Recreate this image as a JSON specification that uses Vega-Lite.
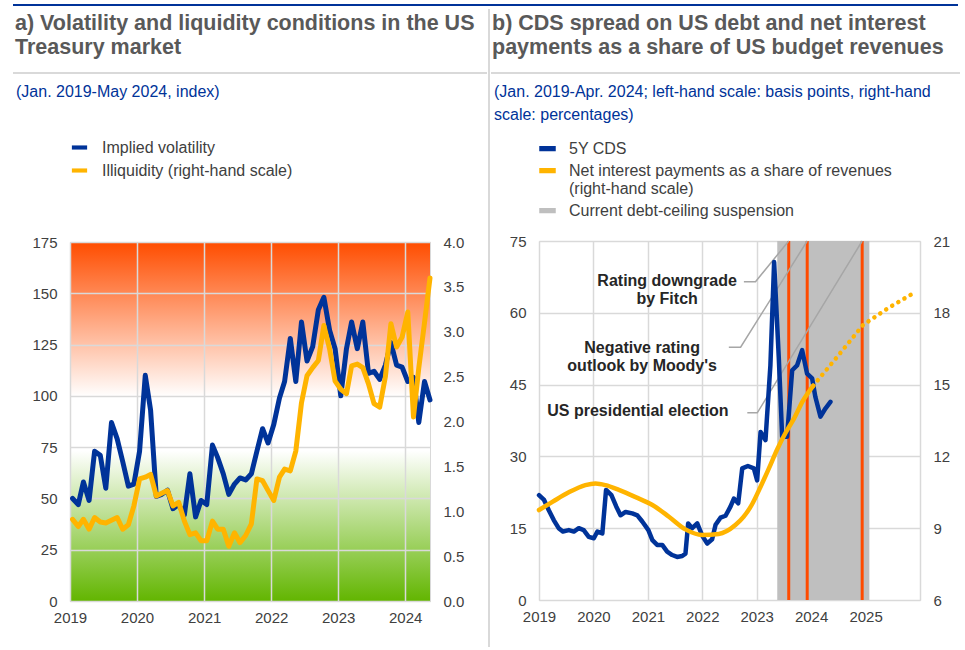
{
  "$schema": "https://vega.github.io/schema/vega-lite/v6.json",
  "background": "white",
  "padding": {"left": 12, "top": 4, "right": 0, "bottom": 0},
  "config": {
    "font": "Liberation Sans",
    "view": {"stroke": null},
    "axis": {"labelFont": "Liberation Sans", "labelFontSize": 15, "labelColor": "#404040", "domain": false, "ticks": false, "tickSize": 0, "gridColor": "#d9d9d9", "gridWidth": 1.5, "labelPadding": 13},
    "axisX": {"labelPadding": 9},
    "legend": {"labelFont": "Liberation Sans", "labelFontSize": 16, "labelColor": "#404040", "symbolSize": 225, "labelOffset": 13, "rowPadding": 5, "labelLimit": 600, "symbolType": "M-1,-0.25H1V0.25H-1Z"}
  },
  "spacing": 1,
  "resolve": {"scale": {"color": "independent"}, "legend": {"color": "independent"}},
  "vconcat": [
    {"width": 945, "height": 2, "data": {"values": [{}]}, "mark": {"type": "text", "fontSize": 2, "baseline": "top"}, "encoding": {"text": {"value": ""}}, "view": {"fill": "#003399", "stroke": null}},
    {
      "spacing": 0,
      "resolve": {"scale": {"x": "independent", "y": "independent", "color": "independent"}, "legend": {"color": "independent"}},
      "hconcat": [
        {
          "spacing": 9,
          "resolve": {"scale": {"x": "independent", "y": "independent", "color": "independent"}, "legend": {"color": "independent"}},
          "vconcat": [
            {"width": 474, "height": 64, "data": {"values": [{}]}, "mark": {"type": "point", "size": 0, "opacity": 0, "strokeWidth": 0}, "encoding": {}, "view": {"stroke": "#d9d9d9", "strokeWidth": 2, "strokeDash": [0, 538, 474, 64]},
             "title": {"text": ["a) Volatility and liquidity conditions in the US", "Treasury market"], "anchor": "start", "frame": "group", "dx": 2, "offset": -49, "fontSize": 21.5, "lineHeight": 24, "fontWeight": "bold", "color": "#595959", "font": "Liberation Sans"}},
            {"spacing": 0,
             "resolve": {"scale": {"x": "independent", "y": "independent", "color": "independent"}, "legend": {"color": "independent"}},
             "hconcat": [
            {"width": 2, "height": 0, "data": {"values": [{}]}, "mark": {"type": "point", "size": 0, "opacity": 0, "strokeWidth": 0}, "encoding": {}, "view": {"stroke": null}},
            {
              "width": 360,
              "height": 359,
              "view": {"stroke": "#d9d9d9", "fill": {"gradient": "linear", "x1": 0, "y1": 1, "x2": 0, "y2": 0, "stops": [{"offset": 0, "color": "#62b500"}, {"offset": 0.42, "color": "#ffffff"}, {"offset": 0.57, "color": "#ffffff"}, {"offset": 1, "color": "#ff4d00"}]}},
              "title": {"text": "(Jan. 2019-May 2024, index)", "anchor": "start", "frame": "group", "dx": -54, "offset": 38, "fontSize": 16, "fontWeight": "normal", "color": "#003399", "font": "Liberation Sans"},
              "data": {"values": [
                {"date": "2019-01-15", "vol": 50, "illiq": 0.91}, {"date": "2019-02-15", "vol": 47, "illiq": 0.83}, {"date": "2019-03-15", "vol": 58, "illiq": 0.91}, {"date": "2019-04-15", "vol": 49, "illiq": 0.80}, {"date": "2019-05-15", "vol": 73, "illiq": 0.93}, {"date": "2019-06-15", "vol": 71, "illiq": 0.88}, {"date": "2019-07-15", "vol": 55, "illiq": 0.87}, {"date": "2019-08-15", "vol": 87, "illiq": 0.90}, {"date": "2019-09-15", "vol": 79, "illiq": 0.93}, {"date": "2019-10-15", "vol": 68, "illiq": 0.80}, {"date": "2019-11-15", "vol": 56, "illiq": 0.85}, {"date": "2019-12-15", "vol": 57, "illiq": 1.06},
                {"date": "2020-01-15", "vol": 73, "illiq": 1.36}, {"date": "2020-02-15", "vol": 110, "illiq": 1.38}, {"date": "2020-03-15", "vol": 93, "illiq": 1.41}, {"date": "2020-04-15", "vol": 51, "illiq": 1.17}, {"date": "2020-05-15", "vol": 52, "illiq": 1.20}, {"date": "2020-06-15", "vol": 54, "illiq": 1.23}, {"date": "2020-07-15", "vol": 45, "illiq": 1.06}, {"date": "2020-08-15", "vol": 47, "illiq": 1.10}, {"date": "2020-09-15", "vol": 42, "illiq": 0.89}, {"date": "2020-10-15", "vol": 62, "illiq": 0.74}, {"date": "2020-11-15", "vol": 41, "illiq": 0.76}, {"date": "2020-12-15", "vol": 49, "illiq": 0.67},
                {"date": "2021-01-15", "vol": 47, "illiq": 0.67}, {"date": "2021-02-15", "vol": 76, "illiq": 0.89}, {"date": "2021-03-15", "vol": 70, "illiq": 0.80}, {"date": "2021-04-15", "vol": 62, "illiq": 0.80}, {"date": "2021-05-15", "vol": 52, "illiq": 0.61}, {"date": "2021-06-15", "vol": 57, "illiq": 0.76}, {"date": "2021-07-15", "vol": 60, "illiq": 0.65}, {"date": "2021-08-15", "vol": 59, "illiq": 0.73}, {"date": "2021-09-15", "vol": 62, "illiq": 0.86}, {"date": "2021-10-15", "vol": 73, "illiq": 1.36}, {"date": "2021-11-15", "vol": 84, "illiq": 1.34}, {"date": "2021-12-15", "vol": 77, "illiq": 1.23},
                {"date": "2022-01-15", "vol": 86, "illiq": 1.12}, {"date": "2022-02-15", "vol": 99, "illiq": 1.38}, {"date": "2022-03-15", "vol": 107, "illiq": 1.47}, {"date": "2022-04-15", "vol": 128, "illiq": 1.45}, {"date": "2022-05-15", "vol": 107, "illiq": 1.67}, {"date": "2022-06-15", "vol": 136, "illiq": 2.21}, {"date": "2022-07-15", "vol": 117, "illiq": 2.51}, {"date": "2022-08-15", "vol": 124, "illiq": 2.60}, {"date": "2022-09-15", "vol": 142, "illiq": 2.68}, {"date": "2022-10-15", "vol": 148, "illiq": 3.07}, {"date": "2022-11-15", "vol": 132, "illiq": 2.81}, {"date": "2022-12-15", "vol": 123, "illiq": 2.45},
                {"date": "2023-01-15", "vol": 100, "illiq": 2.36}, {"date": "2023-02-15", "vol": 123, "illiq": 2.31}, {"date": "2023-03-15", "vol": 136, "illiq": 2.62}, {"date": "2023-04-15", "vol": 123, "illiq": 2.64}, {"date": "2023-05-15", "vol": 136, "illiq": 2.60}, {"date": "2023-06-15", "vol": 111, "illiq": 2.42}, {"date": "2023-07-15", "vol": 112, "illiq": 2.20}, {"date": "2023-08-15", "vol": 108, "illiq": 2.16}, {"date": "2023-09-15", "vol": 115, "illiq": 2.50}, {"date": "2023-10-15", "vol": 126, "illiq": 3.09}, {"date": "2023-11-15", "vol": 115, "illiq": 2.83}, {"date": "2023-12-15", "vol": 114, "illiq": 2.94},
                {"date": "2024-01-15", "vol": 107, "illiq": 3.22}, {"date": "2024-02-15", "vol": 109, "illiq": 2.05}, {"date": "2024-03-15", "vol": 87, "illiq": 2.60}, {"date": "2024-04-15", "vol": 107, "illiq": 3.10}, {"date": "2024-05-15", "vol": 98, "illiq": 3.60}
              ]},
              "encoding": {
                "x": {"field": "date", "type": "temporal", "title": null,
                      "scale": {"type": "utc", "nice": false, "domain": [{"year": 2019, "month": 1, "date": 1, "utc": true}, {"year": 2024, "month": 5, "date": 15, "utc": true}]},
                      "axis": {"grid": true, "format": "%Y", "formatType": "utc", "tickCount": {"interval": "year", "step": 1}, "labelFlush": false, "labelOverlap": false}}
              },
              "layer": [
                {"mark": {"type": "line", "strokeWidth": 5, "strokeJoin": "round", "strokeCap": "round"},
                 "encoding": {
                   "y": {"field": "vol", "type": "quantitative", "title": null, "scale": {"domain": [0, 175], "nice": false}, "axis": {"orient": "left", "values": [0, 25, 50, 75, 100, 125, 150, 175], "grid": true}},
                   "color": {"datum": "Implied volatility", "scale": {"domain": ["Implied volatility", "Illiquidity (right-hand scale)"], "range": ["#003399", "#ffb400"]},
                             "legend": {"title": null, "orient": "top", "direction": "vertical", "offset": 63, "symbolType": "M-0.75,-0.01H0.75V0.01H-0.75Z", "symbolStrokeWidth": 4}}
                 }},
                {"mark": {"type": "line", "strokeWidth": 5, "strokeJoin": "round", "strokeCap": "round"},
                 "encoding": {
                   "y": {"field": "illiq", "type": "quantitative", "title": null, "scale": {"domain": [0, 4], "nice": false}, "axis": {"orient": "right", "values": [0, 0.5, 1, 1.5, 2, 2.5, 3, 3.5, 4], "format": ".1f", "grid": false}},
                   "color": {"datum": "Illiquidity (right-hand scale)"}
                 }}
              ],
              "resolve": {"scale": {"y": "independent"}}
            }
            ]}
          ]
        },
        {"width": 2, "height": 638, "data": {"values": [{}]}, "mark": {"type": "point", "size": 0, "opacity": 0, "strokeWidth": 0}, "encoding": {}, "view": {"fill": "#d9d9d9", "stroke": null}},
        {
          "spacing": 9,
          "resolve": {"scale": {"x": "independent", "y": "independent", "color": "independent"}, "legend": {"color": "independent"}},
          "vconcat": [
            {"width": 469, "height": 64, "data": {"values": [{}]}, "mark": {"type": "point", "size": 0, "opacity": 0, "strokeWidth": 0}, "encoding": {}, "view": {"stroke": "#d9d9d9", "strokeWidth": 2, "strokeDash": [0, 533, 469, 64]},
             "title": {"text": ["b) CDS spread on US debt and net interest", "payments as a share of US budget revenues"], "anchor": "start", "frame": "group", "dx": 1, "offset": -49, "fontSize": 21.5, "lineHeight": 24, "fontWeight": "bold", "color": "#595959", "font": "Liberation Sans"}},
            {"spacing": 0,
             "resolve": {"scale": {"x": "independent", "y": "independent", "color": "independent"}, "legend": {"color": "independent"}},
             "hconcat": [
            {"width": 2, "height": 0, "data": {"values": [{}]}, "mark": {"type": "point", "size": 0, "opacity": 0, "strokeWidth": 0}, "encoding": {}, "view": {"stroke": null}},
            {
              "width": 381,
              "height": 359,
              "view": {"stroke": "#d9d9d9"},
              "title": {"text": ["(Jan. 2019-Apr. 2024; left-hand scale: basis points, right-hand", "scale: percentages)"], "anchor": "start", "frame": "group", "dx": -45, "offset": 17, "lineHeight": 23, "fontSize": 16, "fontWeight": "normal", "color": "#003399", "font": "Liberation Sans"},
              "encoding": {
                "x": {"field": "date", "type": "temporal", "title": null,
                      "scale": {"type": "utc", "nice": false, "domain": [{"year": 2019, "month": 1, "date": 1, "utc": true}, {"year": 2026, "month": 1, "date": 1, "utc": true}]},
                      "axis": {"grid": true, "format": "%Y", "formatType": "utc", "tickCount": {"interval": "year", "step": 1}, "labelFlush": false, "labelOverlap": false, "labelExpr": "utcyear(datum.value) >= 2026 ? '' : datum.label"}}
              },
              "layer": [
                {
                  "layer": [
                    {"data": {"values": [{"start": "2023-05-19", "end": "2025-01-26"}]},
                     "mark": {"type": "rect", "opacity": 1},
                     "encoding": {"x": {"field": "start", "type": "temporal"}, "x2": {"field": "end"},
                                  "color": {"datum": "Current debt-ceiling suspension",
                                            "scale": {"domain": ["5Y CDS", "Net interest payments as a share of revenues (right-hand scale)", "Current debt-ceiling suspension"], "range": ["#003399", "#ffb400", "#bfbfbf"]},
                                            "legend": {"title": null, "orient": "top", "direction": "vertical", "offset": 19, "symbolType": "M-1,-0.25H1V0.25H-1Z",
                                                       "labelExpr": "datum.label === 'Net interest payments as a share of revenues (right-hand scale)' ? ['Net interest payments as a share of revenues', '(right-hand scale)'] : datum.label"}}}},
                    {"data": {"values": [{"date": "2023-08-04", "event": "Fitch downgrade"}, {"date": "2023-12-06", "event": "Moody's outlook"}, {"date": "2024-12-09", "event": "US presidential election"}]},
                     "mark": {"type": "rule", "color": "#ff4b00", "strokeWidth": 3},
                     "encoding": {"x": {"field": "date", "type": "temporal"}}},
                    {"data": {"values": [
                       {"date": "2022-10-07", "val": 66.5, "grp": "f"}, {"date": "2022-12-24", "val": 66.5, "grp": "f"}, {"date": "2023-08-04", "val": 75, "grp": "f"},
                       {"date": "2022-06-28", "val": 52.8, "grp": "m"}, {"date": "2022-09-15", "val": 52.8, "grp": "m"}, {"date": "2023-12-06", "val": 75, "grp": "m"},
                       {"date": "2022-10-30", "val": 39.1, "grp": "e"}, {"date": "2023-01-05", "val": 39.1, "grp": "e"}, {"date": "2024-12-09", "val": 75, "grp": "e"}]},
                     "mark": {"type": "line", "color": "#a6a6a6", "strokeWidth": 1.5},
                     "encoding": {"x": {"field": "date", "type": "temporal"}, "y": {"field": "val", "type": "quantitative"}, "detail": {"field": "grp"}}},
                    {"data": {"values": [
                       {"date": "2021-05-10", "val": 66.7, "label": "Rating downgrade\nby Fitch"},
                       {"date": "2020-11-23", "val": 52.6, "label": "Negative rating\noutlook by Moody's"},
                       {"date": "2020-10-26", "val": 39.5, "label": "US presidential election"}]},
                     "mark": {"type": "text", "lineBreak": "\n", "align": "center", "baseline": "middle", "fontSize": 16, "fontWeight": "bold", "color": "#262626", "lineHeight": 18},
                     "encoding": {"x": {"field": "date", "type": "temporal"}, "y": {"field": "val", "type": "quantitative"}, "text": {"field": "label"}}},
                    {"data": {"values": [
                       {"date": "2019-01-01", "cds": 21.9}, {"date": "2019-02-04", "cds": 20.9}, {"date": "2019-03-07", "cds": 18.8}, {"date": "2019-04-10", "cds": 16.7}, {"date": "2019-05-13", "cds": 15.0}, {"date": "2019-06-10", "cds": 14.3}, {"date": "2019-07-20", "cds": 14.6}, {"date": "2019-08-23", "cds": 14.3}, {"date": "2019-09-25", "cds": 15.0}, {"date": "2019-10-28", "cds": 14.6}, {"date": "2019-12-01", "cds": 13.2},
                       {"date": "2020-01-04", "cds": 12.9}, {"date": "2020-01-28", "cds": 14.3}, {"date": "2020-03-01", "cds": 13.9}, {"date": "2020-03-26", "cds": 23.0}, {"date": "2020-05-01", "cds": 21.9}, {"date": "2020-06-03", "cds": 19.5}, {"date": "2020-07-01", "cds": 17.7}, {"date": "2020-08-04", "cds": 18.4}, {"date": "2020-09-18", "cds": 18.1}, {"date": "2020-10-22", "cds": 17.7}, {"date": "2020-11-24", "cds": 16.4},
                       {"date": "2021-01-04", "cds": 14.6}, {"date": "2021-01-31", "cds": 12.5}, {"date": "2021-03-04", "cds": 11.5}, {"date": "2021-04-07", "cds": 11.5}, {"date": "2021-05-10", "cds": 10.1}, {"date": "2021-06-13", "cds": 9.4}, {"date": "2021-07-16", "cds": 9.0}, {"date": "2021-08-19", "cds": 9.2}, {"date": "2021-09-10", "cds": 9.7}, {"date": "2021-09-28", "cds": 16.0}, {"date": "2021-10-25", "cds": 15.0}, {"date": "2021-11-28", "cds": 16.0},
                       {"date": "2022-01-01", "cds": 13.4}, {"date": "2022-02-03", "cds": 11.8}, {"date": "2022-03-08", "cds": 12.7}, {"date": "2022-03-31", "cds": 15.7}, {"date": "2022-05-03", "cds": 17.2}, {"date": "2022-06-06", "cds": 17.6}, {"date": "2022-07-09", "cds": 19.5}, {"date": "2022-08-01", "cds": 21.2}, {"date": "2022-08-30", "cds": 20.2}, {"date": "2022-09-26", "cds": 27.5}, {"date": "2022-11-03", "cds": 28.0}, {"date": "2022-12-13", "cds": 27.5},
                       {"date": "2023-01-04", "cds": 25.0}, {"date": "2023-01-27", "cds": 35.1}, {"date": "2023-03-01", "cds": 33.4}, {"date": "2023-04-03", "cds": 49.0}, {"date": "2023-04-28", "cds": 70.6}, {"date": "2023-05-29", "cds": 50.8}, {"date": "2023-06-21", "cds": 34.1}, {"date": "2023-07-24", "cds": 34.1}, {"date": "2023-08-27", "cds": 48.0}, {"date": "2023-09-29", "cds": 49.0}, {"date": "2023-11-02", "cds": 52.2}, {"date": "2023-12-05", "cds": 47.3},
                       {"date": "2024-01-08", "cds": 46.3}, {"date": "2024-01-30", "cds": 42.4}, {"date": "2024-03-04", "cds": 38.3}, {"date": "2024-04-06", "cds": 40.0}, {"date": "2024-05-10", "cds": 41.4}]},
                     "mark": {"type": "line", "strokeWidth": 4.5, "strokeJoin": "round", "strokeCap": "round"},
                     "encoding": {"x": {"field": "date", "type": "temporal"},
                                  "y": {"field": "cds", "type": "quantitative", "title": null, "scale": {"domain": [0, 75], "nice": false}, "axis": {"orient": "left", "values": [0, 15, 30, 45, 60, 75], "grid": true}},
                                  "color": {"datum": "5Y CDS"}}}
                  ]
                },
                {
                  "layer": [
                    {"data": {"values": [
                       {"date": "2019-01-01", "nip": 9.76}, {"date": "2019-04-01", "nip": 10.1}, {"date": "2019-07-20", "nip": 10.5}, {"date": "2019-11-08", "nip": 10.8}, {"date": "2020-01-15", "nip": 10.87}, {"date": "2020-03-22", "nip": 10.8}, {"date": "2020-06-20", "nip": 10.6}, {"date": "2020-10-10", "nip": 10.3},
                       {"date": "2021-01-31", "nip": 9.97}, {"date": "2021-05-22", "nip": 9.48}, {"date": "2021-09-10", "nip": 8.95}, {"date": "2022-01-01", "nip": 8.72}, {"date": "2022-04-21", "nip": 8.76}, {"date": "2022-08-11", "nip": 9.13}, {"date": "2022-10-06", "nip": 9.48}, {"date": "2022-12-01", "nip": 10.0},
                       {"date": "2023-01-27", "nip": 10.73}, {"date": "2023-03-24", "nip": 11.5}, {"date": "2023-05-19", "nip": 12.3}, {"date": "2023-07-15", "nip": 13.0}, {"date": "2023-09-10", "nip": 13.6}, {"date": "2023-11-05", "nip": 14.3}, {"date": "2024-01-15", "nip": 14.95}]},
                     "mark": {"type": "line", "strokeWidth": 4.5, "interpolate": "monotone", "strokeCap": "round"},
                     "encoding": {"x": {"field": "date", "type": "temporal"},
                                  "y": {"field": "nip", "type": "quantitative", "title": null, "scale": {"domain": [6, 21], "nice": false}, "axis": {"orient": "right", "values": [6, 9, 12, 15, 18, 21], "grid": false}},
                                  "color": {"datum": "Net interest payments as a share of revenues (right-hand scale)"}}},
                    {"data": {"values": [
                       {"date": "2024-01-15", "nip": 14.95}, {"date": "2024-06-24", "nip": 16.16}, {"date": "2024-12-16", "nip": 17.5}, {"date": "2025-06-07", "nip": 18.22}, {"date": "2025-12-02", "nip": 18.87}]},
                     "mark": {"type": "line", "strokeWidth": 4.5, "strokeDash": [0.1, 7], "strokeCap": "round", "color": "#ffb400"},
                     "encoding": {"x": {"field": "date", "type": "temporal"}, "y": {"field": "nip", "type": "quantitative"}}}
                  ]
                }
              ],
              "resolve": {"scale": {"y": "independent"}}
            }
            ]}
          ]
        }
      ]
    }
  ]
}
